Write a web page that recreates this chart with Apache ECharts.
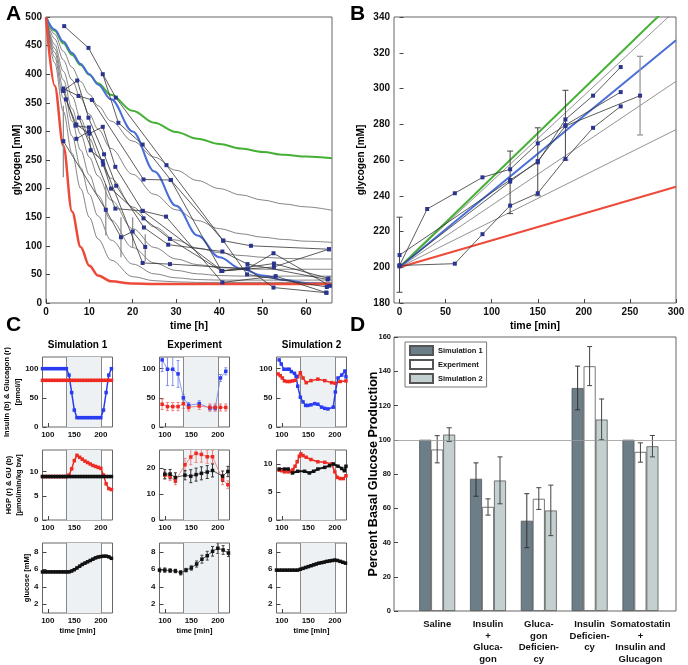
<!DOCTYPE html>
<html><head><meta charset="utf-8">
<script src="https://cdn.jsdelivr.net/npm/echarts@6/dist/echarts.min.js"></script>
<style>html,body{margin:0;padding:0;background:#fff}#main{width:688px;height:665px}</style>
</head><body><div id="main"></div>
<script>
// ================= DATA =================
// ---- Panel A: glycogen depletion [mM] vs time [h]
const aTime  = [0,2,4,6,8,10,12,15,20,25,30,35,40,45,50,55,60,66];
const aGreen = [500,476,454,434,416,399,384,364,336,315,299,287,278,270,264,259,256,253];
const aBlue  = [500,478,457,437,418,400,382,356,300,230,170,118,80,60,48,40,35,31];
const aRed   = [500,380,275,160,98,65,48,38,34,33,33,33,33,33,33,33,33,33];
const aGray1 = [500,470,440,412,387,365,345,318,283,255,232,214,200,189,180,173,168,162];
const aGray2 = [500,462,425,390,358,330,304,270,225,190,163,144,130,121,115,111,108,106];
const aGray3 = [500,452,405,362,322,288,257,218,168,133,110,96,88,83,80,78,77,77];
const aGray4 = [500,445,390,340,295,255,222,180,130,97,77,67,62,60,59,59,59,59];
const aGray5 = [500,438,375,318,267,224,188,145,97,70,57,51,48,47,47,47,47,47];
const aGray6 = [500,430,358,292,237,190,152,110,68,51,44,41,40,40,40,40,40,40];
const aGray7 = [500,420,335,262,200,150,112,75,46,39,37,36,36,36,36,36,36,36];
const aExp1 = [[4.2,484],[9.8,446],[16.1,359],[27.8,241],[40.9,109],[47.3,100],[65.3,94]];
const aExp2 = [[13.1,400],[16.7,315],[22.3,277],[28.8,215],[40.5,56],[52.6,69],[65.2,43]];
const aExp3 = [[4,375],[7.5,362],[10.6,355],[22.5,216],[28.8,215],[40.9,109],[46.4,50],[64.8,28]];
const aExp4 = [[4,371],[7.2,389],[9.8,324],[13.4,260],[16.2,205],[22.6,132],[28.2,102],[40.7,90],[46.5,68],[65,41]];
const aExp5 = [[4.6,356],[7,312],[10,296],[13.1,308],[16,238],[22.3,161],[27.7,151],[40.7,36],[53,47],[64.7,18]];
const aExp6 = [[4,371],[6.8,310],[9.9,307],[13.2,242],[15,200],[22.5,148],[28.6,112],[40.5,56],[52.6,63],[65.3,94]];
const aExp7 = [[7,287],[9.9,300],[10.3,267],[13.1,248],[22.3,70],[28.6,68],[46.5,60],[52.5,87],[65.5,30]];
const aExp8 = [[4,283],[13.8,163],[17.3,115],[20,125],[22.9,98]];
const aExp9 = [[7.6,324],[16,165],[22.3,161],[40.7,56],[46.5,60],[52.5,27],[64.7,18]];
const aErr  = [[4,220,345],[13.8,118,207],[17.3,80,150],[20,98,150],[22.9,73,120]];
const aXTicks = [0,10,20,30,40,50,60];
const aYTicks = [0,50,100,150,200,250,300,350,400,450,500];

// ---- Panel B: glycogen repletion [mM] vs time [min]
const bGreen = [[0,200],[300,350]];
const bBlue  = [[0,200],[300,327]];
const bRed   = [[0,200],[300,245]];
const bGray1 = [[0,200],[300,344]];
const bGray2 = [[0,200],[300,304]];
const bGray3 = [[0,200],[300,277]];
const bExp1 = [[0,201],[30,232.6],[60,241.4],[90,250.3],[120,254.8],[150,269.3],[180,279.5],[240,298]];
const bExp2 = [[0,201],[60,202],[90,218.5],[120,234.5],[150,241.4],[180,260.6],[210,278],[240,290]];
const bExp3 = [[0,206.8],[120,248.8],[150,258.7],[180,282.7],[210,296],[240,312]];
const bExp4 = [[0,200.5],[120,247.9],[150,259.4],[180,279],[261,296]];
const bErrDark = [[0,186,228],[120,230,265],[150,240,278],[180,260,299]];
const bErrGray = [[261,274,318]];
const bXTicks = [0,50,100,150,200,250,300];
const bYTicks = [180,200,220,240,260,280,300,320,340];

// ---- Panel C
const cShade = [135,200];
const cXTicks = [100,150,200];
const cTopTicks = [0,50,100];
const cMidTicksS1 = [0,5,10];
const cMidTicksExp = [0,10,20];
const cMidTicksS2 = [0,5,10];
const cBotTicks = [2,4,6,8];
// Simulation 1
const cS1Time = [90,95,100,105,110,115,120,125,130,135,140,145,150,155,160,165,170,175,180,185,190,195,200,205,210,215,220];
const cS1Ins  = [100,100,100,100,100,100,100,100,100,100,89,59,29,16,16,16,16,16,16,16,16,16,16,29,59,89,100];
const cS1Glc  = [80,80,80,80,80,80,80,80,80,80,80,80,80,80,80,80,80,80,80,80,80,80,80,80,80,80,80];
const cS1HGP  = [9,9,9,9,9,9,9,9,9,9,9.3,10.6,12.3,13.4,13.0,12.6,12.2,11.9,11.6,11.3,11.1,10.9,10.7,9.3,7.5,6.5,6.3];
const cS1GU   = [9,9,9,9,9,9,9,9,9,9,9,9,9,9,9,9,9,9,9,9,9,9,9,9,9,9,9];
const cS1Gluc = [5.7,5.7,5.7,5.7,5.7,5.7,5.7,5.7,5.7,5.7,5.7,5.8,5.95,6.15,6.35,6.55,6.7,6.85,7.0,7.15,7.3,7.4,7.45,7.5,7.5,7.42,7.25];
// Experiment
const cExpTopTime = [95,105,115,125,135,145,165,185,195,205,215];
const cExpIns     = [115,99,99,91,50,37,40,32.5,32.5,84,95.5];
const cExpInsErr  = [20,28,28,23,5,5,5,5,5,6,6];
const cExpGlc     = [39,35,35,35,40,33.5,36,33.5,33.5,33.5,33.5];
const cExpGlcErr  = [9,7,7,7,8,6,6,6,6,6,6];
const cExpMidTime = [100,110,120,138,149,159,169,180,190,209,219];
const cExpGU      = [17.7,17.7,16.4,17.3,16.9,17.5,18,18.5,19.1,16.9,18.7];
const cExpGUErr   = [1.8,1.8,1.8,1.8,2.5,2.5,2.5,2.5,2.5,2,2];
const cExpHGP     = [17.3,16.7,15.1,21.3,24.3,25.7,25.3,24.4,24.4,15.6,13.6];
const cExpHGPErr  = [1.5,1.5,1.5,2.5,3,3.5,3,2.5,2.5,2,1.5];
const cExpBotTime = [90,100,110,120,130,140,150,160,170,180,190,200,210,220];
const cExpGluc    = [5.9,5.9,5.85,5.8,5.6,5.9,6.15,6.6,7.15,7.55,8.05,8.4,8.2,7.85];
const cExpGlucErr = [0.25,0.25,0.2,0.2,0.25,0.2,0.25,0.35,0.45,0.5,0.55,0.6,0.5,0.4];
// Simulation 2
const cS2InsTime = [95,99,104,110,114,118,124,127,130,135,140,145,149,155,162,168,175,181,187,197,201,206,213,219,221];
const cS2Ins     = [115,108,99,99,99,95,92,87,70,51,43,37,37,38,40,39,34,32,31,34,60,84,89,96,86];
const cS2GlcTime = [93,97,101,105,110,115,120,125,130,135,140,146,155,168,181,194,201,210,221];
const cS2Glc     = [91,88,84,79,78,78,79,80,86,93,84,76,79.5,82,79.5,76,75,78,79];
const cS2GUTime  = [95,105,112,120,130,143,152,160,168,181,190,197,206,213,218,221];
const cS2GU      = [9.1,9.1,9.1,8.4,8.7,8.7,8.4,8.7,9.1,9.4,9.7,10.0,9.6,9.2,8.8,9.6];
const cS2HGPTime = [95,100,105,112,117,121,125,129,133,136,140,146,155,168,181,194,200,205,210,216,221];
const cS2HGP     = [8.9,8.8,8.6,8.6,8.7,9.0,9.6,10.4,11.4,11.8,11.5,11.2,10.8,10.4,10.3,10.0,8.6,7.6,7.4,7.4,7.9];
const cS2BotTime = [90,95,100,105,110,115,120,125,130,135,140,145,150,155,160,165,170,175,180,185,190,195,200,205,210,215,220];
const cS2Gluc    = [5.9,5.9,5.9,5.9,5.9,5.9,5.9,5.9,5.9,6.0,6.1,6.2,6.3,6.4,6.5,6.6,6.7,6.75,6.82,6.9,6.95,7.0,7.05,7.0,6.9,6.8,6.7];

// ---- Panel D: percent basal glucose production
const dCats = ['Saline','Insulin\n+\nGluca-\ngon','Gluca-\ngon\nDeficien-\ncy','Insulin\nDeficien-\ncy','Somatostatin\n+\nInsulin and\nGlucagon'];
const dSim1   = [100,77.2,52.7,130.2,100];
const dSim1Lo = [null,67,37,117.5,null];
const dSim1Hi = [null,86.5,68.5,143,null];
const dExp    = [94.3,60.8,65.5,142.9,92.9];
const dExpLo  = [86.5,56,59.3,131.6,86.9];
const dExpHi  = [102.4,65.5,72,154.4,98.2];
const dSim2   = [103,76.2,58.7,111.8,96.2];
const dSim2Lo = [99,62.6,44,100,90];
const dSim2Hi = [107,90,73.5,123.8,102.5];
const dYTicks = [0,20,40,60,80,100,120,140,160];
const dRef = 100;

// ================= BUILD =================
const FONT = '"Liberation Sans", Arial, sans-serif';
const zip = (t, v) => t.map((x, i) => [x, v[i]]);
const grids = [], xAxes = [], yAxes = [], series = [];
const frame = {show:true, borderColor:'#666', borderWidth:1, backgroundColor:'rgba(0,0,0,0)'};
function addGrid(g){ grids.push(Object.assign({}, frame, g)); return grids.length - 1; }
function axis(gi, min, max, ticks, fs, extra){
  const a = {type:'value', gridIndex:gi, min:min, max:max,
    axisLine:{show:false},
    axisTick:{show:true, inside:true, length:4, customValues:ticks, lineStyle:{color:'#444', width:1}},
    axisLabel:{customValues:ticks, color:'#111', fontWeight:'bold', fontFamily:FONT, fontSize:fs, margin:4},
    splitLine:{show:false}};
  if (extra) {
    if (extra.labelMargin !== undefined) a.axisLabel.margin = extra.labelMargin;
    if (extra.formatter) a.axisLabel.formatter = extra.formatter;
    if (extra.lineHeight) a.axisLabel.lineHeight = extra.lineHeight;
    if (extra.noTick) a.axisTick.show = false;
    if (extra.name) {
      a.name = extra.name; a.nameLocation = 'middle'; a.nameGap = extra.nameGap; a.nameMoveOverlap = false;
      a.nameTextStyle = {fontWeight:'bold', fontFamily:FONT, fontSize:extra.nameSize, color:'#000', lineHeight:extra.nameLH || extra.nameSize + 2};
    }
  }
  return a;
}
function line(gi, data, o){
  series.push(Object.assign({type:'line', xAxisIndex:gi, yAxisIndex:gi, data:data, symbol:'none', silent:true, animation:false}, o));
}
function errSeries(gi, rows, color, cap, off, w){
  series.push({type:'custom', xAxisIndex:gi, yAxisIndex:gi, data:rows, clip:true, silent:true, z:4,
    encode:{x:0, y:[1,2]},
    renderItem:function(params, api){
      const x = api.value(0), lo = api.value(1), hi = api.value(2);
      const a = api.coord([x, lo]), b = api.coord([x, hi]);
      const cx = a[0] + (off || 0);
      const st = {stroke:color, lineWidth:w || 1, fill:null};
      const ch = [{type:'line', shape:{x1:cx, y1:a[1], x2:cx, y2:b[1]}, style:st}];
      if (cap) {
        ch.push({type:'line', shape:{x1:cx-cap, y1:a[1], x2:cx+cap, y2:a[1]}, style:st});
        ch.push({type:'line', shape:{x1:cx-cap, y1:b[1], x2:cx+cap, y2:b[1]}, style:st});
      }
      return {type:'group', children:ch};
    }});
}
const errRows = (t, m, e) => t.map((x, i) => [x, m[i] - e[i], m[i] + e[i]]);

// ---- Panel A
const gA = addGrid({left:46, top:17, width:286, height:286});
xAxes.push(axis(gA, 0, 66, aXTicks, 10, {name:'time [h]', nameGap:17, nameSize:10.5}));
yAxes.push(axis(gA, 0, 500, aYTicks, 10, {name:'glycogen [mM]', nameGap:23, nameSize:10}));
[aGray1,aGray2,aGray3,aGray4,aGray5,aGray6,aGray7].forEach(g =>
  line(gA, zip(aTime, g), {smooth:0.35, smoothMonotone:'x', lineStyle:{color:'#666', width:0.8}, z:2}));
line(gA, zip(aTime, aGreen), {smooth:0.35, smoothMonotone:'x', lineStyle:{color:'#45b035', width:2}, z:3});
line(gA, zip(aTime, aBlue), {smooth:0.35, smoothMonotone:'x', lineStyle:{color:'#4a6ed8', width:2}, z:3});
line(gA, zip(aTime, aRed), {smooth:0.35, smoothMonotone:'x', lineStyle:{color:'#ee4a3a', width:2.5}, z:3});
errSeries(gA, aErr, '#888', 0, 0, 1.2);
[aExp1,aExp2,aExp3,aExp4,aExp5,aExp6,aExp7,aExp8,aExp9].forEach(e =>
  line(gA, e, {symbol:'rect', symbolSize:4, showSymbol:true, itemStyle:{color:'#2b3590'}, lineStyle:{color:'#333', width:0.8}, z:5}));

// ---- Panel B
const gB = addGrid({left:394, top:17, width:282, height:286});
xAxes.push(axis(gB, -6, 300, bXTicks, 10, {name:'time [min]', nameGap:17, nameSize:10.5}));
yAxes.push(axis(gB, 180, 340, bYTicks, 10, {name:'glycogen [mM]', nameGap:27, nameSize:10}));
[bGray1,bGray2,bGray3].forEach(g => line(gB, g, {lineStyle:{color:'#777', width:0.8}, z:2}));
line(gB, bGreen, {lineStyle:{color:'#45b035', width:2}, z:3});
line(gB, bBlue, {lineStyle:{color:'#4a6ed8', width:2}, z:3});
line(gB, bRed, {lineStyle:{color:'#ee4a3a', width:2}, z:3});
errSeries(gB, bErrDark, '#444', 3, 0, 1);
errSeries(gB, bErrGray, '#999', 3, 0, 1.3);
[bExp1,bExp2,bExp3,bExp4].forEach(e =>
  line(gB, e, {symbol:'rect', symbolSize:4, showSymbol:true, itemStyle:{color:'#2b3590'}, lineStyle:{color:'#333', width:0.8}, z:5}));

// ---- Panel C
const colLeft = [42.5, 159.5, 276.5], rowTop = [357, 450, 543];
const cG = [];
for (let r = 0; r < 3; r++) for (let c = 0; c < 3; c++) {
  const gi = addGrid({left:colLeft[c], top:rowTop[r], width:70, height:70});
  cG.push(gi);
  const xe = r === 2 ? {name:'time [min]', nameGap:13, nameSize:7.5} : null;
  xAxes.push(axis(gi, 90, 222, cXTicks, 8, xe));
  let ymin, ymax, ticks, ye = null;
  if (r === 0) { ymin = 0; ymax = 120; ticks = cTopTicks;
    if (c === 0) ye = {name:'Insulin (b) & Glucagon (r)\n[pmol/l]', nameGap:19, nameSize:7.5, nameLH:11}; }
  else if (r === 1) { ymin = 0; ymax = [14.5, 27, 12.5][c]; ticks = [cMidTicksS1, cMidTicksExp, cMidTicksS2][c];
    if (c === 0) ye = {name:'HGP (r) & GU (b)\n[µmol/min/kg bw]', nameGap:19, nameSize:7.5, nameLH:10}; }
  else { ymin = 1; ymax = 9; ticks = cBotTicks;
    if (c === 0) ye = {name:'glucose [mM]', nameGap:11, nameSize:7.5}; }
  yAxes.push(axis(gi, ymin, ymax, ticks, 8, ye));
  // shaded infusion window
  series.push({type:'line', xAxisIndex:gi, yAxisIndex:gi, data:[[cShade[0], ymin]], symbol:'none', silent:true,
    lineStyle:{width:0}, z:1,
    markArea:{silent:true, itemStyle:{color:'#edf1f4'}, data:[[{xAxis:cShade[0]},{xAxis:cShade[1]}]]},
    markLine:{silent:true, symbol:'none', label:{show:false}, lineStyle:{color:'#888', width:1, type:'solid'},
      data:[{xAxis:cShade[0]},{xAxis:cShade[1]}]}});
}
const BL = '#2a3cf0', RD = '#ee2a22', BK = '#111';
const simSty = (col) => ({symbol:'rect', symbolSize:3.5, showSymbol:true, itemStyle:{color:col}, lineStyle:{color:col, width:1.5}, z:5});
const expSty = (col, lc) => ({symbol:'rect', symbolSize:3.5, showSymbol:true, itemStyle:{color:col}, lineStyle:{color:lc, width:0.8}, z:5});
// Sim 1
line(cG[0], zip(cS1Time, cS1Glc), simSty(RD));
line(cG[0], zip(cS1Time, cS1Ins), simSty(BL));
line(cG[3], zip(cS1Time, cS1HGP), simSty(RD));
line(cG[3], zip(cS1Time, cS1GU), Object.assign(simSty(BK), {lineStyle:{color:BK, width:2.5}}));
line(cG[6], zip(cS1Time, cS1Gluc), Object.assign(simSty(BK), {lineStyle:{color:BK, width:2.5}}));
// Experiment
errSeries(cG[1], errRows(cExpTopTime, cExpIns, cExpInsErr), '#8090ee', 1.5, 0, 1);
errSeries(cG[1], errRows(cExpTopTime, cExpGlc, cExpGlcErr), '#f08080', 1.5, 0, 1);
line(cG[1], zip(cExpTopTime, cExpIns), expSty(BL, '#7080ee'));
line(cG[1], zip(cExpTopTime, cExpGlc), expSty(RD, '#f07070'));
errSeries(cG[4], errRows(cExpMidTime, cExpHGP, cExpHGPErr), '#f08080', 1.5, 0, 1);
errSeries(cG[4], errRows(cExpMidTime, cExpGU, cExpGUErr), '#333', 1.5, 0, 1);
line(cG[4], zip(cExpMidTime, cExpHGP), expSty(RD, '#f07070'));
line(cG[4], zip(cExpMidTime, cExpGU), expSty(BK, '#333'));
errSeries(cG[7], errRows(cExpBotTime, cExpGluc, cExpGlucErr), '#444', 1.5, 0, 1);
line(cG[7], zip(cExpBotTime, cExpGluc), expSty(BK, '#333'));
// Sim 2
line(cG[2], zip(cS2GlcTime, cS2Glc), simSty(RD));
line(cG[2], zip(cS2InsTime, cS2Ins), simSty(BL));
line(cG[5], zip(cS2HGPTime, cS2HGP), simSty(RD));
line(cG[5], zip(cS2GUTime, cS2GU), Object.assign(simSty(BK), {lineStyle:{color:BK, width:2}}));
line(cG[8], zip(cS2BotTime, cS2Gluc), Object.assign(simSty(BK), {lineStyle:{color:BK, width:2.5}}));

// ---- Panel D
const gD = addGrid({left:394, top:337, width:282, height:275});
xAxes.push(axis(gD, 0.15, 5.7, [1,2,3,4,5], 9.5, {noTick:true, labelMargin:8, lineHeight:11.5,
  formatter: v => dCats[Math.round(v) - 1]}));
yAxes.push(axis(gD, 0, 160, dYTicks, 7.5, {labelMargin:3, name:'Percent Basal Glucose Production', nameGap:13.5, nameSize:12.5}));
const barSty = (col) => ({color:col, borderColor:'#555', borderWidth:0.8});
series.push({type:'bar', name:'Simulation 1', xAxisIndex:gD, yAxisIndex:gD, data:dSim1.map((v,i)=>[i+1,v]),
  barWidth:12, barGap:'0%', itemStyle:barSty('#6c7e88'), silent:true, z:2,
  markLine:{silent:true, symbol:'none', label:{show:false}, lineStyle:{color:'#999', width:0.8, type:'solid'}, data:[{yAxis:dRef}]}});
series.push({type:'bar', name:'Experiment', xAxisIndex:gD, yAxisIndex:gD, data:dExp.map((v,i)=>[i+1,v]),
  barWidth:12, barGap:'0%', itemStyle:barSty('#ffffff'), silent:true, z:2});
series.push({type:'bar', name:'Simulation 2', xAxisIndex:gD, yAxisIndex:gD, data:dSim2.map((v,i)=>[i+1,v]),
  barWidth:12, barGap:'0%', itemStyle:barSty('#c4d0d0'), silent:true, z:2});
const dRows = (lo, hi) => lo.map((l, i) => l === null ? null : [i+1, l, hi[i]]).filter(r => r);
errSeries(gD, dRows(dSim1Lo, dSim1Hi), '#333', 2.5, -12, 1);
errSeries(gD, dRows(dExpLo, dExpHi), '#444', 2.5, 0, 1);
errSeries(gD, dRows(dSim2Lo, dSim2Hi), '#444', 2.5, 12, 1);

// ---- texts
const txt = (s, x, y, size, align) => ({type:'text', x:x, y:y, silent:true,
  style:{text:s, fontSize:size, fontWeight:'bold', fontFamily:FONT, fill:'#000', align:align||'left', textAlign:align||'left', verticalAlign:'top', textVerticalAlign:'top'}});
const graphics = [
  txt('A', 6, 4, 21), txt('B', 350, 4, 21), txt('C', 6, 315, 21), txt('D', 350, 315, 21),
  txt('Simulation 1', 77.5, 340, 10, 'center'), txt('Experiment', 194.5, 340, 10, 'center'), txt('Simulation 2', 311.5, 340, 10, 'center')
];

const chart = echarts.init(document.getElementById('main'), null, {renderer:'canvas'});
chart.setOption({
  animation:false,
  backgroundColor:'#fff',
  grid:grids, xAxis:xAxes, yAxis:yAxes, series:series, graphic:graphics,
  legend:{data:['Simulation 1','Experiment','Simulation 2'], orient:'vertical', left:405, top:342,
    icon:'rect', itemWidth:23, itemHeight:9, itemGap:3, padding:[3,4,3,4], backgroundColor:'#fff', borderColor:'#777', borderWidth:1,
    selectedMode:false, textStyle:{fontSize:7.5, fontWeight:'bold', fontFamily:FONT, color:'#111'}}
});
</script></body></html>
